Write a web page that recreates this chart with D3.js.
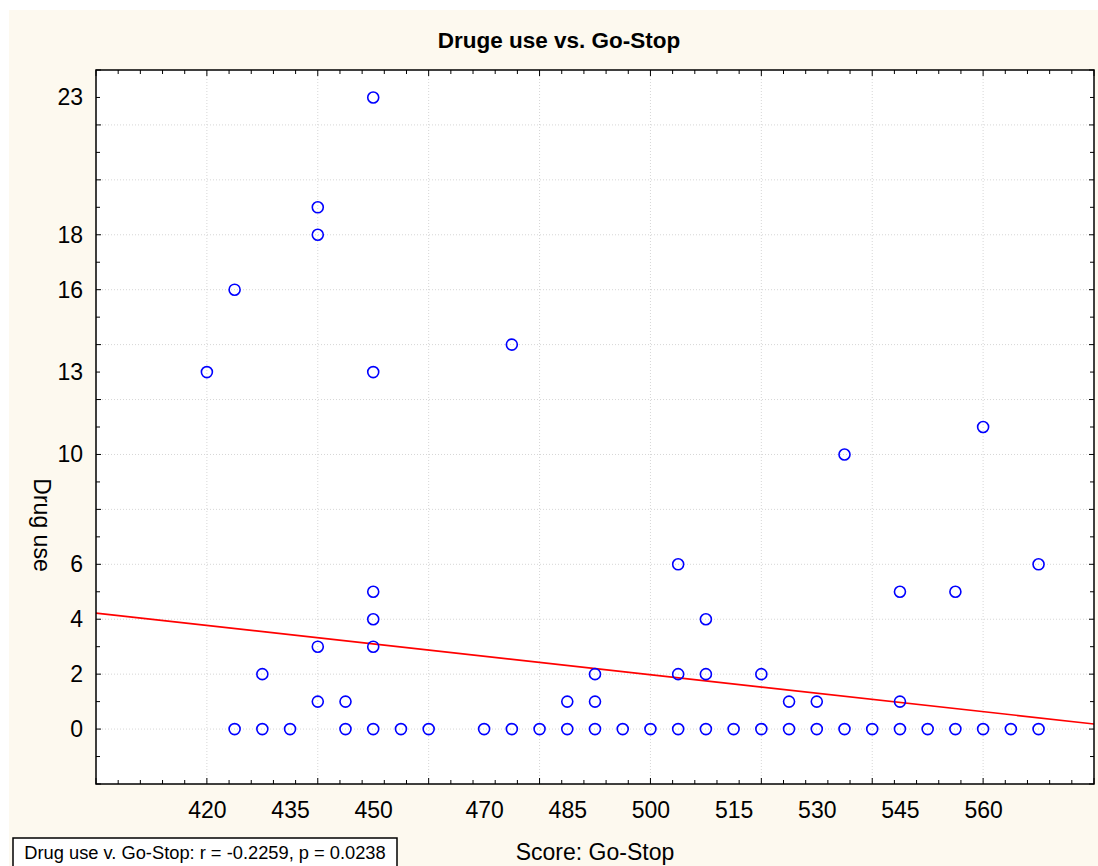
<!DOCTYPE html>
<html>
<head>
<meta charset="utf-8">
<script src="https://cdn.jsdelivr.net/npm/d3@7"></script>
<style>
  body { margin: 0; background: #fff; }
  svg { display: block; font-family: "Liberation Sans", Arial, sans-serif; }
</style>
</head>
<body>
<div class="canva"></div>
<script>
// data
const goStop  = [420,425,425,430,430,435,440,440,440,440,445,445,450,450,450,450,450,450,455,460,
                 470,475,475,480,485,485,490,490,490,495,500,505,505,505,510,510,510,515,520,520,
                 525,525,530,530,535,535,540,545,545,545,550,555,555,560,560,565,570,570]
const drugUse = [13,16,0,2,0,0,19,18,3,1,1,0,23,13,5,4,3,0,0,0,
                 0,14,0,0,1,0,2,1,0,0,0,6,2,0,4,2,0,0,2,0,
                 1,0,1,0,10,0,0,5,1,0,0,5,0,11,0,0,6,0]
const xTickLabels = [420,435,450,470,485,500,515,530,545,560]
const yTickLabels = [0,2,4,6,10,13,16,18,23]
const fitIntercept = 13.2
const fitSlope = -0.02244
const title = "Druge use vs. Go-Stop"
const xTitle = "Score: Go-Stop"
const yTitle = "Drug use"
const statText = "Drug use v. Go-Stop: r = -0.2259, p = 0.0238"

const W = 1098, H = 866
const pL = 96, pT = 70, pR = 1094, pB = 784

const svg = d3.select('.canva').append("svg")
  .attr("width", W).attr("height", H)

svg.append("rect").attr("x", 9).attr("y", 10).attr("width", W - 9).attr("height", H - 10)
  .attr("fill", "#fdf9ef")

svg.append("rect").attr("x", pL).attr("y", pT)
  .attr("width", pR - pL).attr("height", pB - pT).attr("fill", "#fff")

const x = d3.scaleLinear().domain([400, 580]).range([pL, pR])
const y = d3.scaleLinear().domain([-2, 24]).range([pB, pT])

// grid
svg.append("g").selectAll("line")
  .data(d3.range(420, 580, 20))
  .enter().append("line")
  .attr("x1", d => x(d)).attr("x2", d => x(d))
  .attr("y1", pT).attr("y2", pB)
  .attr("stroke", "#d6d6d6").attr("stroke-dasharray", "1,2")

svg.append("g").selectAll("line")
  .data(d3.range(0, 24, 2))
  .enter().append("line")
  .attr("y1", d => y(d)).attr("y2", d => y(d))
  .attr("x1", pL).attr("x2", pR)
  .attr("stroke", "#d6d6d6").attr("stroke-dasharray", "1,2")

// tick marks on all four sides, pointing in
const xt = d3.range(400, 581, 4)
const yt = d3.range(-2, 25, 1)
const tk = svg.append("g").attr("stroke", "#000").attr("stroke-width", 1)
xt.forEach(d => {
  const len = d % 20 == 0 ? 6 : 4
  tk.append("line").attr("x1", x(d)).attr("x2", x(d)).attr("y1", pB).attr("y2", pB - len)
  tk.append("line").attr("x1", x(d)).attr("x2", x(d)).attr("y1", pT).attr("y2", pT + len)
})
yt.forEach(d => {
  const len = d % 2 == 0 ? 5 : 4
  tk.append("line").attr("y1", y(d)).attr("y2", y(d)).attr("x1", pL).attr("x2", pL + len)
  tk.append("line").attr("y1", y(d)).attr("y2", y(d)).attr("x1", pR).attr("x2", pR - len)
})

// axis labels
const xAxis = svg.append("g").attr("transform", `translate(0,${pB})`)
  .call(d3.axisBottom(x).tickValues(xTickLabels).tickSize(0).tickPadding(18))
xAxis.select(".domain").remove()
xAxis.selectAll("text").attr("font-size", 23).attr("font-family", "Liberation Sans").attr("fill", "#000")

const yAxis = svg.append("g").attr("transform", `translate(${pL},0)`)
  .call(d3.axisLeft(y).tickValues(yTickLabels).tickSize(0).tickPadding(13))
yAxis.select(".domain").remove()
yAxis.selectAll("text").attr("font-size", 23).attr("font-family", "Liberation Sans").attr("fill", "#000")

// regression line
svg.append("clipPath").attr("id", "clip").append("rect")
  .attr("x", pL).attr("y", pT).attr("width", pR - pL).attr("height", pB - pT)

const fitLine = d3.line().x(d => x(d)).y(d => y(fitIntercept + fitSlope * d))
svg.append("path").datum(x.domain())
  .attr("d", fitLine)
  .attr("clip-path", "url(#clip)")
  .attr("fill", "none").attr("stroke", "#ff0000").attr("stroke-width", 1.6)

// points
svg.append("g").selectAll("circle")
  .data(goStop)
  .enter().append("circle")
  .attr("cx", d => x(d))
  .attr("cy", (d, i) => y(drugUse[i]))
  .attr("r", 5.5)
  .attr("fill", "none").attr("stroke", "#0000ff").attr("stroke-width", 1.6)

// frame
svg.append("rect").attr("x", pL).attr("y", pT)
  .attr("width", pR - pL).attr("height", pB - pT)
  .attr("fill", "none").attr("stroke", "#000").attr("stroke-width", 1.5)

// titles
svg.append("text").text(title)
  .attr("x", 559).attr("y", 48).attr("text-anchor", "middle")
  .attr("font-size", 22.5).attr("font-weight", "bold")

svg.append("text").text(xTitle)
  .attr("x", 595).attr("y", 860).attr("text-anchor", "middle")
  .attr("font-size", 23)

svg.append("text").text(yTitle)
  .attr("transform", "translate(42,525) rotate(90)")
  .attr("text-anchor", "middle").attr("dominant-baseline", "central")
  .attr("font-size", 23)

// stats box
svg.append("rect").attr("x", 13).attr("y", 838).attr("width", 384).attr("height", 40)
  .attr("fill", "#fff").attr("stroke", "#000").attr("stroke-width", 1.5)
svg.append("text").text(statText)
  .attr("x", 205).attr("y", 859).attr("text-anchor", "middle")
  .attr("font-size", 18.3)
</script>
</body>
</html>
